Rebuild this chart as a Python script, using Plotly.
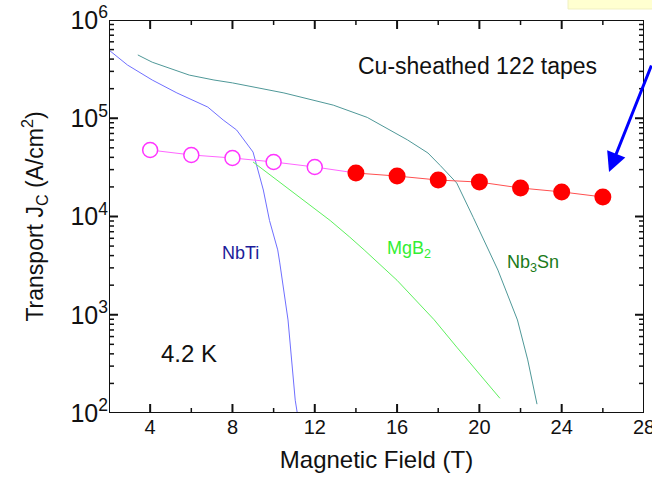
import plotly.graph_objects as go
import math

# ---- data ----
nbti_B = [2.0, 2.9, 4.1, 5.3, 6.8, 7.4, 7.55, 8.2, 9.0, 9.5, 9.8, 10.2, 10.3, 10.7, 10.9, 11.05, 11.15]
nbti_Jc = [494000, 348000, 245000, 181000, 130000, 101000, 96000, 76000, 45300, 18600, 9100, 4570, 3370, 885, 275, 135, 100]

mgb2_B = [9.0, 12.75, 13.7, 14.4, 16.0, 17.8, 18.9, 21.0]
mgb2_Jc = [35900, 9100, 6170, 4570, 2240, 890, 468, 141]

nb3sn_B = [3.4, 4.1, 5.9, 7.1, 8.0, 10.5, 12.9, 14.55, 16.5, 17.5, 18.1, 18.5, 18.9, 19.7, 20.9, 21.85, 22.35, 22.8]
nb3sn_Jc = [441000, 372000, 275000, 245000, 229000, 181000, 136000, 102000, 60300, 44300, 33000, 27000, 21900, 9800, 2850, 885, 347, 123]

open_B = [4, 6, 8, 10, 12]
open_Jc = [47500, 42300, 39400, 35900, 31900]
filled_B = [14, 16, 18, 20, 22, 24, 26]
filled_Jc = [27700, 25800, 23500, 22400, 19500, 17800, 15800]

FONT = "Liberation Sans, Arial, sans-serif"
X_RANGE = [2, 28]
Y_RANGE = [2, 6]           # log10 decades
X_MAJOR = [4, 8, 12, 16, 20, 24]
X_MINOR = [6, 10, 14, 18, 22, 26]
Y_MAJOR = [3, 4, 5]
Y_MINOR = [e + math.log10(m) for e in range(2, 6) for m in range(2, 10)]

PLOT_W, PLOT_H = 535, 393
PX_PER_DEC = PLOT_H / (Y_RANGE[1] - Y_RANGE[0])
PX_PER_T = PLOT_W / (X_RANGE[1] - X_RANGE[0])
FRAME = "#111111"

fig = go.Figure()
fig.add_trace(go.Scatter(x=nbti_B, y=nbti_Jc, mode="lines",
                         line=dict(color="#6f6fff", width=1), showlegend=False))
fig.add_trace(go.Scatter(x=mgb2_B, y=mgb2_Jc, mode="lines",
                         line=dict(color="#5ef05e", width=1), showlegend=False))
fig.add_trace(go.Scatter(x=nb3sn_B, y=nb3sn_Jc, mode="lines",
                         line=dict(color="#4f9898", width=1), showlegend=False))
fig.add_trace(go.Scatter(x=open_B + filled_B[:1], y=open_Jc + filled_Jc[:1], mode="lines",
                         line=dict(color="#ff66ff", width=1), showlegend=False))
fig.add_trace(go.Scatter(x=filled_B, y=filled_Jc, mode="lines+markers",
                         line=dict(color="#ff5050", width=1),
                         marker=dict(color="#ff0000", size=17, line=dict(width=0)),
                         showlegend=False))
fig.add_trace(go.Scatter(x=open_B, y=open_Jc, mode="markers",
                         marker=dict(color="white", size=15, line=dict(color="#ff33ff", width=1.5)),
                         showlegend=False))

# ---- axis frame and inside ticks (drawn as line traces) ----
x0, x1 = X_RANGE
y0, y1 = Y_RANGE
fig.add_trace(go.Scatter(x=[x0, x1, x1, x0, x0], y=[10 ** y0, 10 ** y0, 10 ** y1, 10 ** y1, 10 ** y0],
                         mode="lines", line=dict(color=FRAME, width=2), cliponaxis=False,
                         hoverinfo="skip", showlegend=False))


def tick_trace(xvals, yvals, length_px, width):
    tx, ty = [], []
    dl = length_px / PX_PER_DEC
    for v in xvals:
        tx += [v, v, None, v, v, None]
        ty += [10 ** y0, 10 ** (y0 + dl), None, 10 ** y1, 10 ** (y1 - dl), None]
    dt = length_px / PX_PER_T
    for v in yvals:
        tx += [x0, x0 + dt, None, x1, x1 - dt, None]
        ty += [10 ** v, 10 ** v, None, 10 ** v, 10 ** v, None]
    return go.Scatter(x=tx, y=ty, mode="lines", line=dict(color=FRAME, width=width),
                      cliponaxis=False, hoverinfo="skip", showlegend=False)


fig.add_trace(tick_trace(X_MAJOR, Y_MAJOR, 9, 2))
fig.add_trace(tick_trace(X_MINOR, Y_MINOR, 5, 1.5))

annots = [
    dict(x=19.93, y=5.53, text="Cu-sheathed 122 tapes", font=dict(size=23, color="#111")),
    dict(x=8.37, y=3.63, text="NbTi", font=dict(size=18, color="#1c1c9a")),
    dict(x=16.6, y=3.66, text="MgB<sub>2</sub>", font=dict(size=18, color="#33ee33")),
    dict(x=22.6, y=3.52, text="Nb<sub>3</sub>Sn", font=dict(size=18, color="#1a7a1a")),
    dict(x=5.9, y=2.61, text="4.2 K", font=dict(size=24, color="#111")),
]
for a in annots:
    fig.add_annotation(xref="x", yref="y", showarrow=False, **a)

fig.add_annotation(xref="x", yref="y", x=26.3, y=math.log10(28400), text="",
                   showarrow=True, arrowhead=2, arrowsize=1.3, arrowwidth=3,
                   arrowcolor="#0000ff", ax=46, ay=-108)

fig.add_shape(type="rect", xref="paper", yref="paper", x0=0.858, x1=1.02, y0=1.028, y1=1.06,
              fillcolor="#ffffd0", line=dict(color="#f0f0c0", width=1), layer="below")

fig.update_layout(
    width=652, height=489,
    margin=dict(l=109, r=8, t=20, b=76),
    paper_bgcolor="white", plot_bgcolor="white",
    font=dict(family=FONT, size=20, color="#111"),
    xaxis=dict(range=X_RANGE, tick0=0, dtick=4, ticks="", showline=False,
               showgrid=False, zeroline=False, automargin=False, ticklabeloverflow="allow",
               title=dict(text="Magnetic Field (T)", font=dict(size=24), standoff=14),
               tickfont=dict(size=20)),
    yaxis=dict(type="log", range=Y_RANGE, dtick=1, exponentformat="power",
               ticks="", showline=False,
               showgrid=False, zeroline=False, automargin=False,
               title=dict(text="Transport J<sub>C</sub> (A/cm<sup>2</sup>)", font=dict(size=23), standoff=20),
               tickfont=dict(size=20)),
)

fig.write_html("out.html", config={"displayModeBar": False},
               post_script="document.body.style.margin='0';document.body.style.overflow='hidden';")
